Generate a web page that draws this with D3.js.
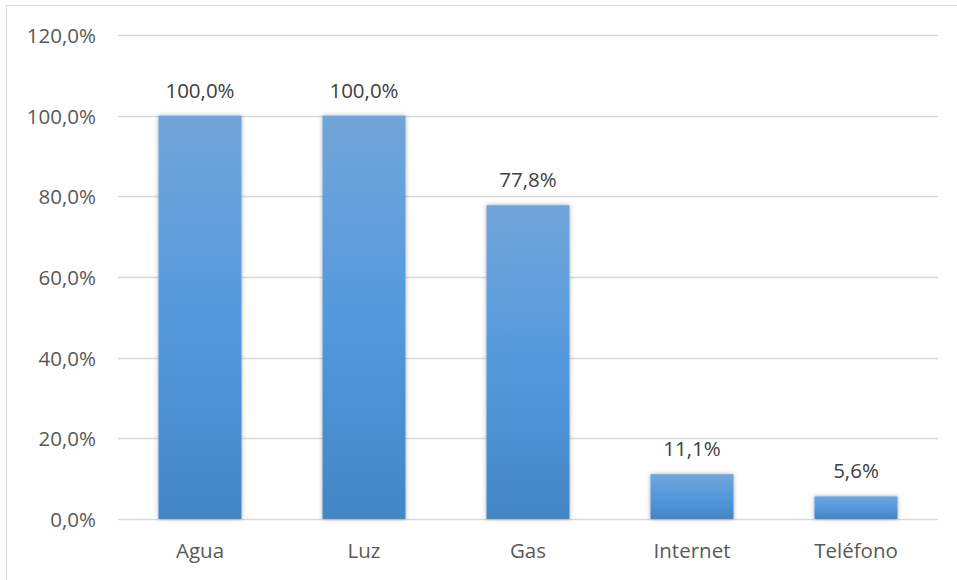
<!DOCTYPE html>
<html><head><meta charset="utf-8">
<script src="https://cdn.jsdelivr.net/npm/d3@7"></script>
<style>body{margin:0;background:#fff;} svg{display:block;}</style>
</head><body>
<svg id="c" width="957" height="580"></svg>
<script>
const categories = ["Agua", "Luz", "Gas", "Internet", "Teléfono"];
const values = [100.0, 100.0, 77.8, 11.1, 5.6];
const yTicks = [0, 20, 40, 60, 80, 100, 120];

const svg = d3.select("#c");
const font = "'Open Sans', 'Noto Sans', sans-serif";
const fs = 20.5;
const m = {left: 118, right: 938, top: 35, bottom: 519};
const fmt = v => v.toFixed(1).replace(".", ",") + "%";

svg.append("rect").attr("x", 6.5).attr("y", 5.5).attr("width", 1000).attr("height", 1000)
  .attr("fill", "none").attr("stroke", "#d9d9d9").attr("stroke-width", 1);

const x = d3.scaleBand().domain(categories).range([m.left, m.right]).paddingInner(0.494).paddingOuter(0.247);
const y = d3.scaleLinear().domain([0, 120]).range([m.bottom, m.top]);

const defs = svg.append("defs");
const g = defs.append("linearGradient").attr("id", "bg").attr("x1", 0).attr("y1", 0).attr("x2", 0).attr("y2", 1);
g.append("stop").attr("offset", "0%").attr("stop-color", "#71a5d9");
g.append("stop").attr("offset", "50%").attr("stop-color", "#5499dd");
g.append("stop").attr("offset", "100%").attr("stop-color", "#4286c6");
const f = defs.append("filter").attr("id", "sh").attr("x", "-20%").attr("y", "-20%").attr("width", "140%").attr("height", "140%");
f.append("feDropShadow").attr("dx", 0).attr("dy", 0).attr("stdDeviation", 2.2).attr("flood-color", "#000").attr("flood-opacity", 0.35);

// gridlines
svg.append("g").selectAll("line").data(yTicks).join("line")
  .attr("x1", m.left).attr("x2", m.right)
  .attr("y1", d => Math.round(y(d)) + 0.5).attr("y2", d => Math.round(y(d)) + 0.5)
  .attr("stroke", "#d9d9d9").attr("stroke-width", 1.3);

// y axis labels
const yAxis = d3.axisLeft(y).tickValues(yTicks).tickFormat(fmt).tickSize(0).tickPadding(0);
const ya = svg.append("g").attr("transform", `translate(96,0)`).call(yAxis);
ya.select(".domain").remove();
ya.selectAll("text").attr("font-family", font).attr("font-size", fs).attr("fill", "#595959").attr("dy", "0.36em");

// bars
svg.append("g").selectAll("rect").data(values).join("rect")
  .attr("x", (d, i) => x(categories[i]))
  .attr("width", x.bandwidth())
  .attr("y", d => y(d))
  .attr("height", d => y(0) - y(d))
  .attr("fill", "url(#bg)")
  .attr("filter", "url(#sh)");

// value labels
svg.append("g").selectAll("text").data(values).join("text")
  .attr("x", (d, i) => x(categories[i]) + x.bandwidth() / 2)
  .attr("y", d => y(d) - 18)
  .attr("text-anchor", "middle")
  .attr("font-family", font).attr("font-size", fs).attr("fill", "#404040")
  .text(fmt);

// x axis labels
const xAxis = d3.axisBottom(x).tickSize(0).tickPadding(0);
const xa = svg.append("g").attr("transform", `translate(0,${m.bottom + 39})`).call(xAxis);
xa.select(".domain").remove();
xa.selectAll("text").attr("font-family", font).attr("font-size", fs).attr("fill", "#595959").attr("dy", 0);
</script>
</body></html>
